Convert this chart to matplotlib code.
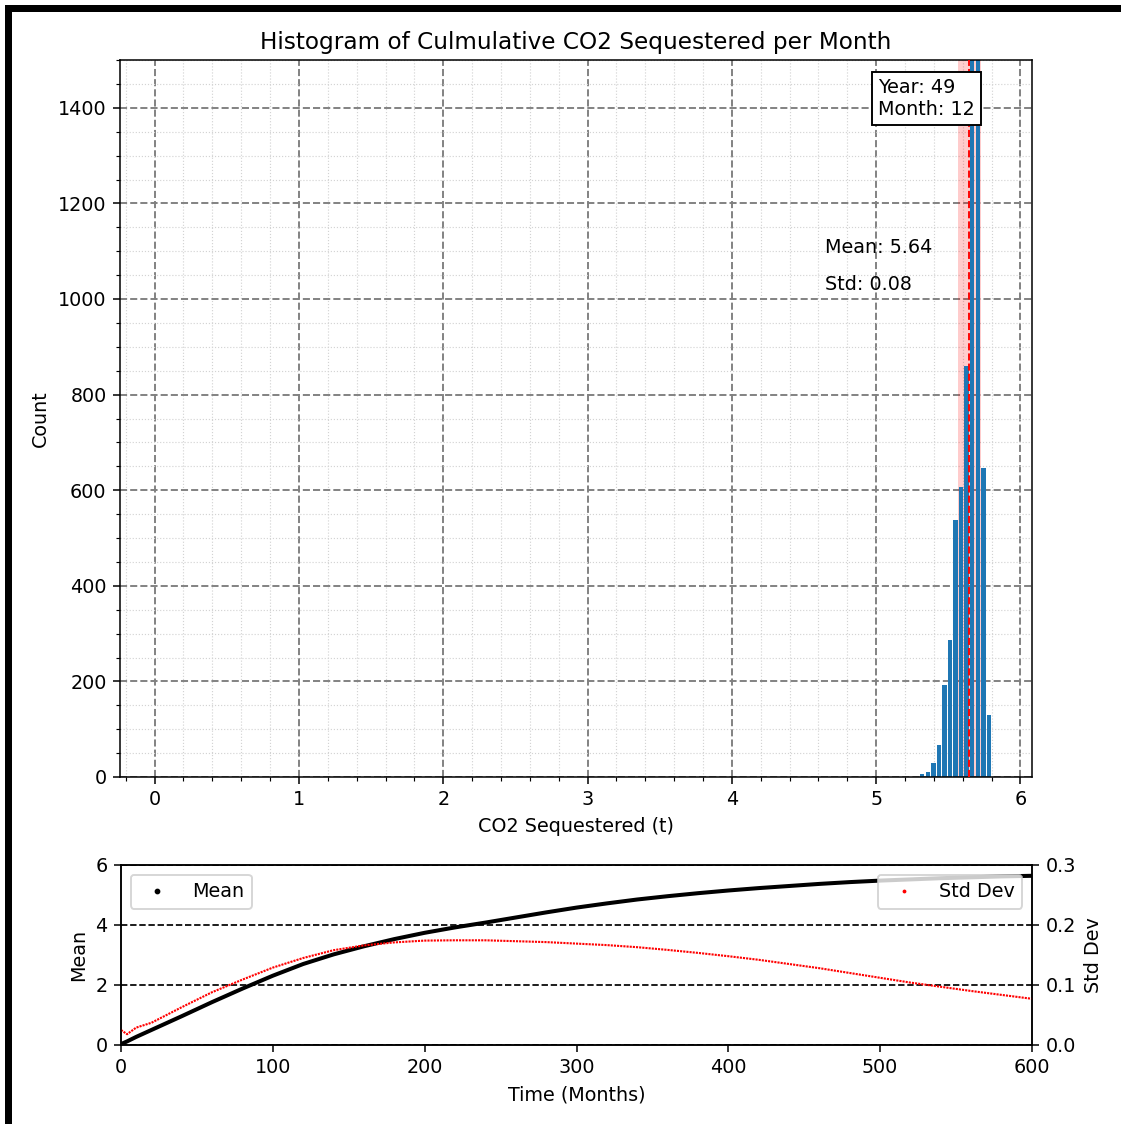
import matplotlib
matplotlib.use("Agg")
import matplotlib.pyplot as plt
from matplotlib.ticker import MultipleLocator
from matplotlib.lines import Line2D
from matplotlib.patches import Rectangle
import numpy as np

# ---------------- data ----------------
bin_start = 5.300
bin_width = 0.0385
hist_counts = [7, 11, 30, 67, 192, 286, 537, 606, 860, 2100, 1700, 646, 130]
mean_val = 5.645
std_val = 0.081
year_label = 49
month_label = 12

months = [0, 4, 10, 20, 40, 60, 80, 100, 120, 140, 160, 180, 200, 220, 240,
          260, 280, 300, 320, 340, 360, 380, 400, 420, 440, 460, 480, 500,
          520, 540, 560, 580, 600]
mean_series = [0.03, 0.12, 0.27, 0.50, 0.96, 1.43, 1.88, 2.31, 2.70, 3.02, 3.29,
               3.53, 3.74, 3.92, 4.08, 4.25, 4.42, 4.58, 4.72, 4.85, 4.96, 5.06,
               5.15, 5.23, 5.30, 5.37, 5.43, 5.48, 5.52, 5.56, 5.59, 5.62, 5.64]
std_series = [0.025, 0.018, 0.029, 0.037, 0.063, 0.088, 0.109, 0.129, 0.145,
              0.158, 0.166, 0.171, 0.174, 0.1745, 0.1745, 0.173, 0.1715, 0.169,
              0.1665, 0.163, 0.1585, 0.1535, 0.148, 0.142, 0.135, 0.128, 0.120,
              0.112, 0.104, 0.097, 0.090, 0.0835, 0.077]

# ---------------- figure ----------------
W, H = 1121, 1124
DPI = 138
fig = plt.figure(figsize=(W / DPI, H / DPI), dpi=DPI)

ax = fig.add_axes([120 / W, 1 - 777 / H, (1032 - 120) / W, (777 - 60) / H])
edges = bin_start + bin_width * np.arange(len(hist_counts) + 1)
centers = (edges[:-1] + edges[1:]) / 2
ax.axvspan(mean_val - std_val, mean_val + std_val, color='red', alpha=0.2, zorder=1, lw=0)
ax.hist(centers, bins=edges, weights=hist_counts, rwidth=0.8, color='#1f77b4', zorder=2)
ax.axvline(mean_val, color='red', linestyle='--', lw=1.0, zorder=3)

ax.set_xlim(-0.24, 6.08)
ax.set_ylim(0, 1500)
ax.xaxis.set_major_locator(MultipleLocator(1))
ax.xaxis.set_minor_locator(MultipleLocator(0.2))
ax.yaxis.set_major_locator(MultipleLocator(200))
ax.yaxis.set_minor_locator(MultipleLocator(50))
ax.grid(which='major', linestyle='--', color='gray', lw=1.0, zorder=0)
ax.grid(which='minor', linestyle=':', color='lightgray', lw=0.6, zorder=0)
ax.set_axisbelow(True)
ax.set_title('Histogram of Culmulative CO2 Sequestered per Month', fontsize=12.1)
ax.set_xlabel('CO2 Sequestered (t)')
ax.set_ylabel('Count')

ax.text(mean_val - 1, 1107, f'Mean: {mean_val:.2f}', va='center', ha='left')
ax.text(mean_val - 1, 1031, f'Std: {std_val:.2f}', va='center', ha='left')
ax.text(0.9375, 0.975, f'Year: {year_label}\nMonth: {month_label}', transform=ax.transAxes,
        ha='right', va='top', multialignment='left',
        bbox=dict(boxstyle='square,pad=0.33', facecolor='white', edgecolor='black'))

# ---------------- bottom chart ----------------
ax1 = fig.add_axes([121 / W, 1 - 1045 / H, (1032 - 121) / W, (1045 - 865) / H])
ax1.plot(months, mean_series, '-', color='black', lw=2.1, solid_capstyle='round')
ax1.set_xlim(0, 600)
ax1.set_ylim(0, 6)
ax1.yaxis.set_major_locator(MultipleLocator(2))
ax1.grid(axis='y', linestyle='--', color='black', lw=0.9)
ax1.set_xlabel('Time (Months)')
ax1.set_ylabel('Mean')
ax1.legend(handles=[Line2D([], [], marker='.', linestyle='none', color='black', markersize=4)],
           labels=['Mean'], loc='upper left')

ax2 = ax1.twinx()
ax2.plot(months, std_series, color='red', lw=1.1, linestyle=(0, (1, 0.5)))
ax2.set_ylim(0, 0.3)
ax2.yaxis.set_major_locator(MultipleLocator(0.1))
ax2.set_ylabel('Std Dev')
ax2.legend(handles=[Line2D([], [], marker='.', linestyle='none', color='red', markersize=2)],
           labels=['Std Dev'], loc='upper right')

# ---------------- frame artefact ----------------
fig.add_artist(Rectangle((5 / W, 0), 7 / W, 1 - 5 / H, transform=fig.transFigure,
                         color='black', lw=0))
fig.add_artist(Rectangle((5 / W, 1 - 12 / H), 1, 7 / H, transform=fig.transFigure,
                         color='black', lw=0))

fig.savefig('out.png', dpi=DPI)
